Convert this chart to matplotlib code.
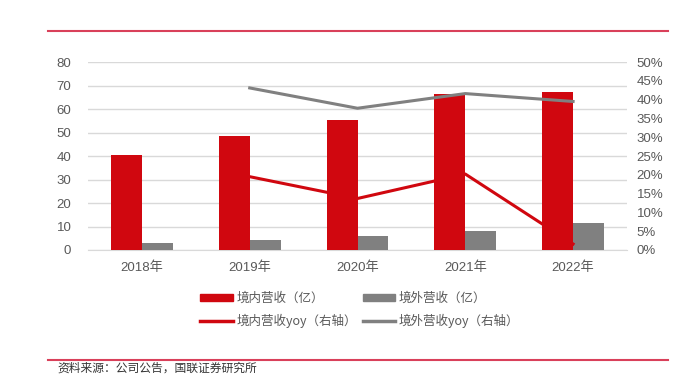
import matplotlib
matplotlib.use("Agg")
import matplotlib.pyplot as plt
from matplotlib.patches import Patch
from matplotlib.lines import Line2D
import numpy as np

plt.rcParams['font.family'] = ['Noto Sans CJK SC', 'DejaVu Sans']

years = ['2018年', '2019年', '2020年', '2021年', '2022年']
domestic = [40.5, 48.3, 55.2, 66.2, 67.1]
overseas = [3.0, 4.3, 5.9, 8.2, 11.6]
yoy_years = ['2019年', '2020年', '2021年', '2022年']
domestic_yoy = [19.5, 13.7, 20.2, 1.6]
overseas_yoy = [43.1, 37.7, 41.6, 39.5]

red = '#d0070f'
grey = '#808080'
txt = '#595959'
tick_fam = ['Liberation Sans', 'Noto Sans CJK SC']

fig = plt.figure(figsize=(6.93, 3.81), dpi=100)
ax = fig.add_axes([88/693, 1-250/381, (627-88)/693, (250-62)/381])
x = np.arange(len(years))
w = 0.287
ax.bar(x - w/2, domestic, w, color=red, zorder=3)
ax.bar(x + w/2, overseas, w, color=grey, zorder=3)
ax.set_xlim(-0.5, 4.5)
ax.set_ylim(0, 80)
ax.set_yticks(range(0, 81, 10))
ax.grid(axis='y', color='#d9d9d9', linewidth=1, zorder=0)
ax.set_xticks(x)
ax.set_xticklabels(years)
for s in ['top', 'right', 'left']:
    ax.spines[s].set_visible(False)
ax.spines['bottom'].set_color('#d9d9d9')
ax.tick_params(axis='both', length=0, colors=txt, labelsize=9.5)
ax.tick_params(axis='x', pad=8)
ax.tick_params(axis='y', pad=12)
for lab in ax.get_xticklabels() + ax.get_yticklabels():
    lab.set_family(tick_fam)

ax2 = ax.twinx()
xi = [years.index(y) for y in yoy_years]
ax2.plot(xi, domestic_yoy, color=red, linewidth=2.2, zorder=4)
ax2.plot(xi, overseas_yoy, color=grey, linewidth=2.2, zorder=4)
ax2.set_ylim(0, 50)
ax2.set_yticks(range(0, 51, 5))
ax2.set_yticklabels([f'{v}%' for v in range(0, 51, 5)])
for s in ['top', 'right', 'left', 'bottom']:
    ax2.spines[s].set_visible(False)
ax2.tick_params(axis='y', length=0, colors=txt, labelsize=9.5, pad=7)
for lab in ax2.get_yticklabels():
    lab.set_family(tick_fam)

handles = [Patch(color=red), Patch(color=grey),
           Line2D([0], [0], color=red, linewidth=2.5),
           Line2D([0], [0], color=grey, linewidth=2.5)]
labels = ['境内营收（亿）', '境外营收（亿）', '境内营收yoy（右轴）', '境外营收yoy（右轴）']
leg = fig.legend([handles[0], handles[2], handles[1], handles[3]],
                 [labels[0], labels[2], labels[1], labels[3]],
                 ncol=2, loc='upper left', bbox_to_anchor=(189/693, 1-281/381),
                 frameon=False, fontsize=9, handlelength=2.6, handleheight=0.5,
                 columnspacing=0.45, handletextpad=0.3, labelspacing=0.7)
for t in leg.get_texts():
    t.set_color(txt)

line_color = '#d9405a'
fig.add_artist(Line2D([48/693, 668/693], [1-31/381, 1-31/381], color=line_color, linewidth=1.5))
fig.add_artist(Line2D([48/693, 668/693], [1-360/381, 1-360/381], color=line_color, linewidth=1.5))
fig.text(57/693, 1-368/381, '资料来源：公司公告，国联证券研究所', fontsize=8.5, color='#333333', va='center', ha='left')

fig.savefig('out.png', dpi=100)
